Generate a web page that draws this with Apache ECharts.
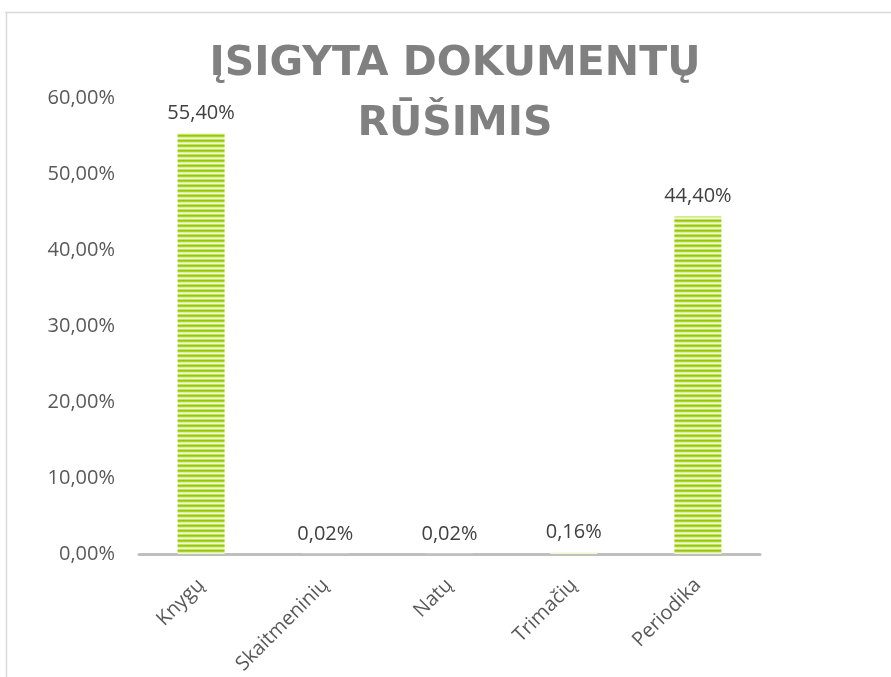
<!DOCTYPE html>
<html><head><meta charset="utf-8">
<script src="https://cdn.jsdelivr.net/npm/echarts@6/dist/echarts.min.js"></script>
<style>html,body{margin:0;padding:0;background:#fff}#c{width:891px;height:677px}</style>
</head><body><div id="c"></div>
<script>
const categories = ['Knygų', 'Skaitmeninių', 'Natų', 'Trimačių', 'Periodika'];
const values = [55.40, 0.02, 0.02, 0.16, 44.40];
const yMin = 0, yMax = 60, yStep = 10;
const titleLines = ['ĮSIGYTA DOKUMENTŲ', 'RŪŠIMIS'];

function pct(v){ return v.toFixed(2).replace('.', ',') + '%'; }

const pc = document.createElement('canvas');
pc.width = 8; pc.height = 5;
const g = pc.getContext('2d');
g.fillStyle = '#96c80a'; g.fillRect(0,0,8,5);
g.fillStyle = '#a9d42a'; g.fillRect(0,1,8,1);
g.fillStyle = '#dcefa0'; g.fillRect(0,2,8,1);
g.fillStyle = '#f0f8d4'; g.fillRect(0,3,8,1);
g.fillStyle = '#c4e266'; g.fillRect(0,4,8,1);

const chart = echarts.init(document.getElementById('c'), null, {renderer:'canvas'});
chart.setOption({
  animation:false,
  backgroundColor:'#fff',
  grid:{left:139, right:131, top:98, bottom:122},
  graphic:[
    {type:'line', shape:{x1:5, y1:12.5, x2:891, y2:12.5}, style:{stroke:'#d9d9d9', lineWidth:1.5}},
    {type:'line', shape:{x1:6.5, y1:12, x2:6.5, y2:677}, style:{stroke:'#d9d9d9', lineWidth:1.5}},
    {type:'text', x:455, y:34, style:{text:titleLines.join('\n'), align:'center', verticalAlign:'top',
      font:'bold 41px "DejaVu Sans"', fill:'#808080', lineHeight:60}}
  ],
  xAxis:{type:'category', data:categories,
    axisLine:{lineStyle:{color:'#bfbfbf', width:3}},
    axisTick:{show:false},
    axisLabel:{rotate:45, margin:28, fontSize:20, fontFamily:'"Open Sans"', color:'#595959'}},
  yAxis:{type:'value', min:yMin, max:yMax, interval:yStep,
    axisLine:{show:false}, axisTick:{show:false}, splitLine:{show:false},
    axisLabel:{margin:24, fontSize:20, fontFamily:'"Open Sans"', color:'#595959', formatter:v=>pct(v)}},
  series:[{type:'bar', data:values, barWidth:47,
    itemStyle:{color:{image:pc, repeat:'repeat'}},
    label:{show:true, position:'top', distance:10, fontSize:20, fontFamily:'"Open Sans"', color:'#404040', formatter:p=>pct(p.value)}}]
});
</script></body></html>
